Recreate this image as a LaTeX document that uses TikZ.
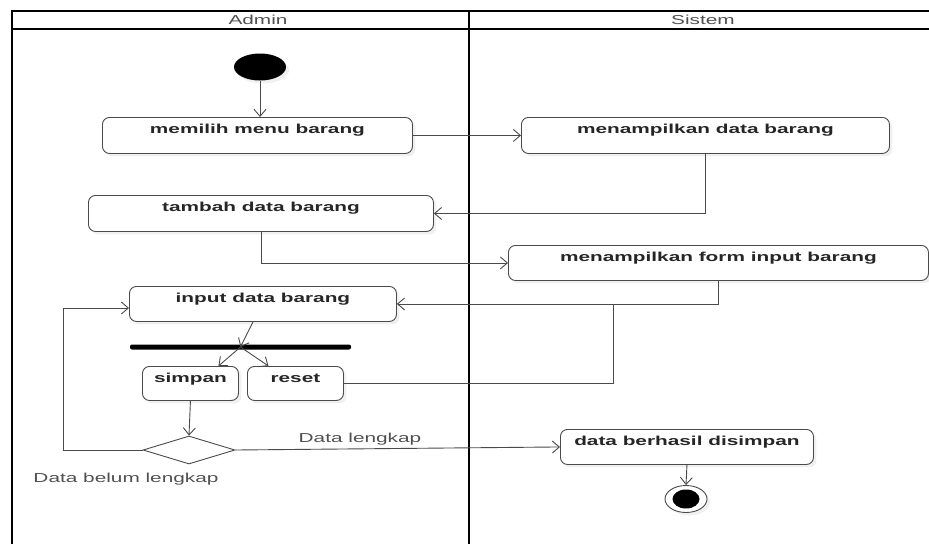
\documentclass[tikz,border=0pt]{standalone}
\usepackage{fontspec}
\setmainfont{Liberation Sans}
\newfontfamily\diafont[FakeStretch=1.6]{Liberation Sans}
\usetikzlibrary{arrows.meta,shapes.geometric,shadows,calc}
\definecolor{linegray}{HTML}{4A4A4A}
\definecolor{textgray}{HTML}{262626}
\definecolor{labelgray}{HTML}{505050}
\tikzset{
  actbox/.style={draw=linegray, line width=0.9pt, rounded corners=7pt, fill=white,
    drop shadow={opacity=0.12, shadow xshift=3pt, shadow yshift=-3pt},
    inner sep=0pt, anchor=north west, text=textgray,
    font=\diafont\bfseries\fontsize{13}{15}\selectfont},
  flow/.style={draw=linegray, line width=0.9pt, -{Straight Barb[length=7pt,width=12pt]}},
  plain/.style={draw=linegray, line width=0.9pt},
  frameline/.style={draw=black, line width=2.4pt},
  lanelabel/.style={text=labelgray, font=\diafont\fontsize{13}{15}\selectfont},
  guardlabel/.style={text=labelgray, font=\diafont\fontsize{13}{15}\selectfont, anchor=base},
}
\newcommand{\abox}[7]{% name, x, y, w, h, baseline offset, text
  \node[actbox, minimum width=#4pt, text height=#6pt, text depth={(#5-#6)*1pt}] (#1) at (#2,#3) {#7};}
\begin{document}
\begin{tikzpicture}[x=1pt,y=-1pt]
\useasboundingbox (0,0) rectangle (929,544);
% swimlane frame
\coordinate (ftl) at (12,11);
\coordinate (ftr) at (929,11);
\coordinate (fbl) at (12,544);
\coordinate (hl) at (12,29);
\coordinate (hr) at (929,29);
\coordinate (dt) at (469,11);
\coordinate (db) at (469,544);
\draw[frameline] (fbl) -- (ftl) -- (ftr);
\draw[draw=black, line width=1.8pt] (hl) -- (hr);
\draw[frameline] (dt) -- (db);
\node[lanelabel] (admin) at (258,20) {Admin};
\node[lanelabel] (sistem) at (703,20) {Sistem};
% initial node
\node[ellipse, fill=black, minimum width=52pt, minimum height=27pt, inner sep=0pt,
  drop shadow={opacity=0.12, shadow xshift=3pt, shadow yshift=-3pt}] (init) at (260,67) {};
% activities
\abox{memilih}{102}{117}{310}{36}{16}{memilih menu barang}
\abox{mdata}{521}{117}{368}{36}{16}{menampilkan data barang}
\abox{tambah}{88}{195}{345}{36}{16}{tambah data barang}
\abox{form}{508}{245}{420}{35}{16}{menampilkan form input barang}
\abox{input}{129}{286}{267}{35}{16}{input data barang}
\abox{simpan}{142}{366}{96}{34}{16}{simpan}
\abox{reset}{247}{366}{96}{34}{16}{reset}
\abox{berhasil}{560}{429}{253}{35}{16}{data berhasil disimpan}
% fork bar
\node[fill=black, rounded corners=2pt, minimum width=221pt, minimum height=5pt, inner sep=0pt] (bar) at (240.5,347) {};
% decision
\node[diamond, draw=linegray, line width=0.9pt, fill=white, minimum width=92pt, minimum height=28pt,
  aspect=3.3, inner sep=0pt] (dec) at (189,450) {};
% final node
\node[ellipse, draw=linegray, line width=0.9pt, fill=white, minimum width=42pt, minimum height=27pt, inner sep=0pt,
  drop shadow={opacity=0.12, shadow xshift=3pt, shadow yshift=-3pt}] (final) at (686,499) {};
\node[ellipse, fill=black, minimum width=27pt, minimum height=19pt, inner sep=0pt] (finalin) at (final.center) {};
% connectors
\draw[flow] (init) -- (init |- memilih.north);
\draw[flow] (memilih.east) -- (mdata.west);
\draw[flow] (mdata.south) |- (tambah.east);
\draw[flow] (tambah.south) |- (form.west);
\draw[flow] (form.south) |- (input.east);
\coordinate (rj) at (input.east -| 613,0);
\draw[plain] (reset.east) -| (rj);
\draw[flow] ([xshift=-10pt]input.south) -- (bar.center);
\draw[flow] (bar.center) -- ([xshift=28pt]simpan.north);
\draw[flow] (bar.center) -- ([xshift=-27pt]reset.north);
\draw[flow] (simpan.south) -- (dec.north);
\coordinate (loop) at (63,308);
\draw[flow] (dec.west) -| (loop) -- (input.west |- loop);
\draw[flow] (dec.east) -- (berhasil.west);
\draw[flow] (berhasil.south) -- (final.north);
% guards
\node[guardlabel] (glengkap) at (360,442) {Data lengkap};
\node[guardlabel] (gbelum) at (126,482) {Data belum lengkap};
\end{tikzpicture}
\end{document}
